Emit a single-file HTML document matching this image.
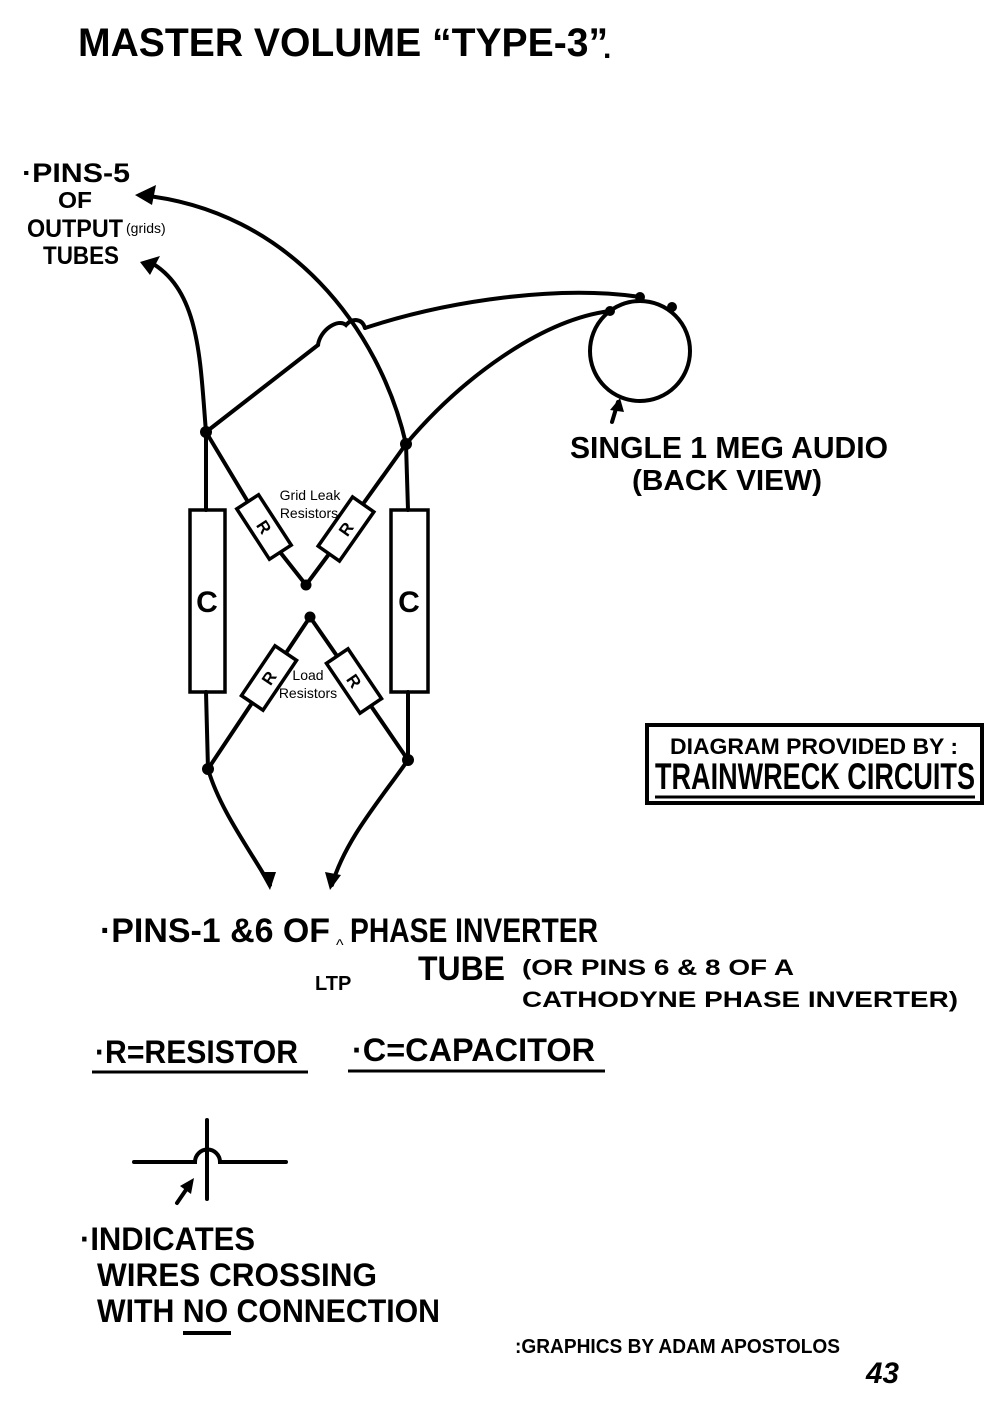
<!DOCTYPE html>
<html><head><meta charset="utf-8"><style>
html,body{margin:0;padding:0;background:#fff;}
svg{display:block}
.h{font-family:"Liberation Sans",sans-serif;font-weight:bold;fill:#000}
.a{font-family:"Liberation Sans",sans-serif;fill:#000}
</style></head><body>
<svg width="1000" height="1404" viewBox="0 0 1000 1404" xmlns="http://www.w3.org/2000/svg">
<rect width="1000" height="1404" fill="#fff"/>
<text class="h" x="78" y="56" font-size="40" textLength="530" lengthAdjust="spacingAndGlyphs">MASTER VOLUME “TYPE-3”</text>
<text class="h" x="603" y="58" font-size="30">.</text>

<text class="h" x="22" y="182" font-size="27" textLength="108" lengthAdjust="spacingAndGlyphs">·PINS-5</text>
<text class="h" x="58" y="208" font-size="23" textLength="34" lengthAdjust="spacingAndGlyphs">OF</text>
<text class="h" x="27" y="237" font-size="25" textLength="96" lengthAdjust="spacingAndGlyphs">OUTPUT</text>
<text class="a" x="126" y="233" font-size="14">(grids)</text>
<text class="h" x="43" y="264" font-size="25" textLength="76" lengthAdjust="spacingAndGlyphs">TUBES</text>

<g stroke="#000" stroke-width="4" fill="none" stroke-linecap="round">
<path d="M206 432 C200 360 200 290 150 262"/>
<path d="M406 444 C380 330 290 210 140 195"/>
<path d="M206 432 L318 345"/>
<path d="M318 345 C320 330 338 318 346 325 C352 318 362 318 365 328"/>
<path d="M365 328 C450 300 560 285 640 297"/>
<path d="M406 444 C460 380 540 320 610 311"/>
<circle cx="640" cy="351" r="50"/>
<path d="M612 422 L618 402"/>
<path d="M206 432 L206 510 M206 692 L208 769"/>
<path d="M406 444 L408 510 M408 692 L408 760"/>
<rect x="190" y="510" width="35" height="182" stroke-width="3.5"/>
<rect x="391" y="510" width="37" height="182" stroke-width="3.5"/>
<path d="M206 432 L248 502 M280 552 L306 585 L329 554 M363 504 L406 444"/>
<path d="M208 769 L252 703 M286 653 L310 617 L337 656 M371 706 L408 760"/>
<path d="M208 769 C220 810 250 850 270 885"/>
<path d="M408 760 C380 800 345 840 332 885"/>
<path d="M134 1162 L195 1162 A12 12 0 0 1 220 1162 L286 1162"/>
<path d="M207 1120 L207 1199"/>
<path d="M177 1203 L190 1184"/>
</g>
<g stroke="#000" stroke-width="3.5" fill="#fff">
<rect x="-13" y="-30" width="26" height="60" transform="translate(264,527) rotate(-33)"/>
<rect x="-13" y="-30" width="26" height="60" transform="translate(346,529) rotate(35)"/>
<rect x="-13" y="-30" width="26" height="60" transform="translate(269,678) rotate(34)"/>
<rect x="-13" y="-30" width="26" height="60" transform="translate(354,681) rotate(-34)"/>
</g>
<g class="h" font-size="17">
<text transform="translate(264,527) rotate(57)" text-anchor="middle" y="6">R</text>
<text transform="translate(346,529) rotate(-55)" text-anchor="middle" y="6">R</text>
<text transform="translate(269,678) rotate(-56)" text-anchor="middle" y="6">R</text>
<text transform="translate(354,681) rotate(56)" text-anchor="middle" y="6">R</text>
</g>
<text class="h" x="207" y="612" font-size="30" text-anchor="middle">C</text>
<text class="h" x="409" y="612" font-size="30" text-anchor="middle">C</text>
<text class="a" x="310" y="500" font-size="14" text-anchor="middle">Grid Leak</text>
<text class="a" x="309" y="518" font-size="14" text-anchor="middle">Resistors</text>
<text class="a" x="308" y="680" font-size="14" text-anchor="middle">Load</text>
<text class="a" x="308" y="698" font-size="14" text-anchor="middle">Resistors</text>
<g fill="#000">
<circle cx="206" cy="432" r="6"/><circle cx="406" cy="444" r="6"/>
<circle cx="208" cy="769" r="6"/><circle cx="408" cy="760" r="6"/>
<circle cx="306" cy="585" r="5.5"/><circle cx="310" cy="617" r="5.5"/>
<circle cx="610" cy="311" r="5"/><circle cx="640" cy="297" r="5"/><circle cx="672" cy="307" r="5"/>
<polygon points="135,195 156,185 152,205"/>
<polygon points="140,262 160,256 150,275"/>
<polygon points="270,890 260,872 276,872"/>
<polygon points="330,890 325,872 341,875"/>
<polygon points="620,398 610,410 624,412"/>
<polygon points="194,1178 180,1186 191,1194"/>
</g>
<text class="h" x="570" y="458" font-size="31" textLength="318" lengthAdjust="spacingAndGlyphs">SINGLE 1 MEG AUDIO</text>
<text class="h" x="632" y="490" font-size="29" textLength="190" lengthAdjust="spacingAndGlyphs">(BACK VIEW)</text>

<rect x="647" y="725" width="335" height="78" fill="none" stroke="#000" stroke-width="4"/>
<text class="h" x="670" y="754" font-size="22" textLength="288" lengthAdjust="spacingAndGlyphs">DIAGRAM PROVIDED BY :</text>
<text class="h" x="655" y="789" font-size="37" textLength="320" lengthAdjust="spacingAndGlyphs">TRAINWRECK CIRCUITS</text>
<path d="M655 797 L975 797" stroke="#000" stroke-width="3"/>

<text class="h" x="100" y="942" font-size="34" textLength="230" lengthAdjust="spacingAndGlyphs">·PINS-1 &amp;6 OF</text>
<text class="a" x="336" y="950" font-size="16">^</text>
<text class="h" x="350" y="942" font-size="34" textLength="248" lengthAdjust="spacingAndGlyphs">PHASE INVERTER</text>
<text class="h" x="418" y="980" font-size="34" textLength="87" lengthAdjust="spacingAndGlyphs">TUBE</text>
<text class="h" x="315" y="990" font-size="20">LTP</text>
<text class="h" x="522" y="975" font-size="22" textLength="272" lengthAdjust="spacingAndGlyphs">(OR PINS 6 &amp; 8 OF A</text>
<text class="h" x="522" y="1007" font-size="22" textLength="436" lengthAdjust="spacingAndGlyphs">CATHODYNE PHASE INVERTER)</text>

<text class="h" x="95" y="1063" font-size="32" textLength="203" lengthAdjust="spacingAndGlyphs">·R=RESISTOR</text>
<path d="M92 1072 L308 1072 M348 1071 L605 1071" stroke="#000" stroke-width="3"/>
<text class="h" x="352" y="1061" font-size="32" textLength="243" lengthAdjust="spacingAndGlyphs">·C=CAPACITOR</text>

<text class="h" x="80" y="1250" font-size="32" textLength="175" lengthAdjust="spacingAndGlyphs">·INDICATES</text>
<text class="h" x="97" y="1286" font-size="32" textLength="280" lengthAdjust="spacingAndGlyphs">WIRES CROSSING</text>
<text class="h" x="97" y="1322" font-size="32" textLength="343" lengthAdjust="spacingAndGlyphs">WITH NO CONNECTION</text>
<path d="M183 1333 L231 1333" stroke="#000" stroke-width="4"/>

<text class="h" x="515" y="1353" font-size="20" textLength="325" lengthAdjust="spacingAndGlyphs">:GRAPHICS BY ADAM APOSTOLOS</text>
<text class="h" x="866" y="1383" font-size="30" font-style="italic" textLength="33" lengthAdjust="spacingAndGlyphs">43</text>
</svg>
</body></html>
